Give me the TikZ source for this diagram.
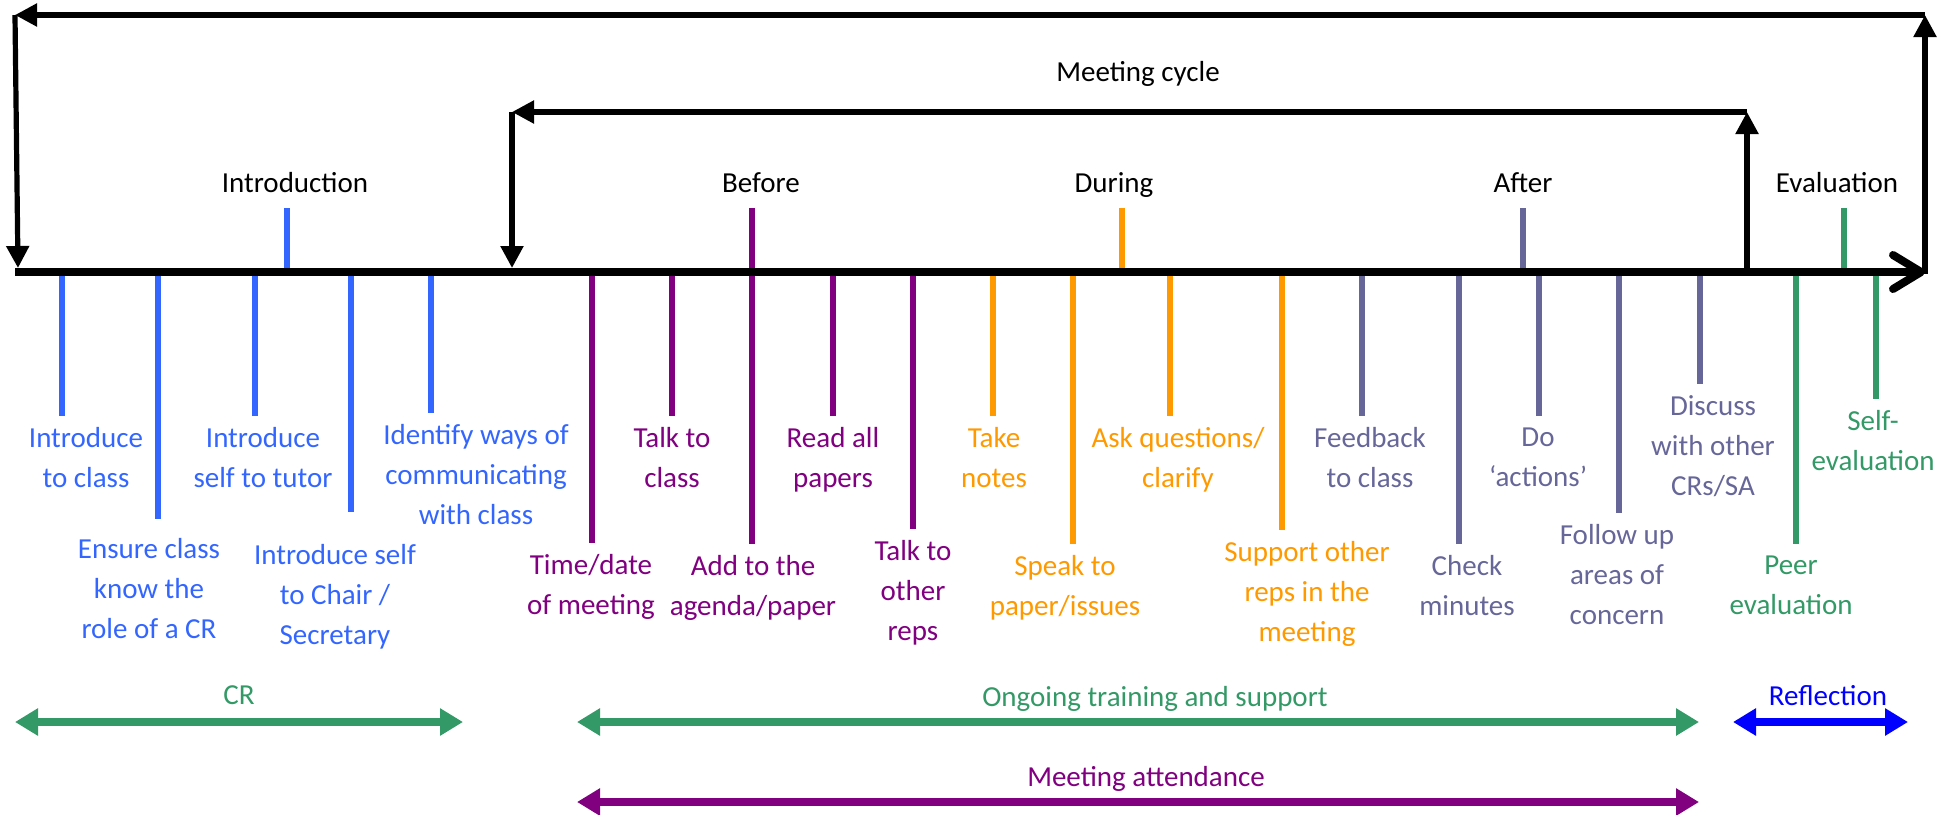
\documentclass[tikz,border=0pt]{standalone}
\usepackage{fontspec}
\setmainfont{Carlito}
\usetikzlibrary{arrows.meta}
\definecolor{introblue}{HTML}{3366FF}
\definecolor{prepurple}{HTML}{800080}
\definecolor{midorange}{HTML}{FF9900}
\definecolor{postslate}{HTML}{666699}
\definecolor{evalgreen}{HTML}{339966}
\definecolor{reflblue}{HTML}{0000FF}
\tikzset{
  lbl/.style={font=\fontsize{14.5}{20}\selectfont, align=center, anchor=north,
    inner xsep=0pt, inner ysep=5.5pt, text=#1, execute at begin node=\strut},
  stage/.style={font=\fontsize{14.5}{20}\selectfont, anchor=base, text depth=0pt,
    inner ysep=8pt, text=#1},
  stage/.default=black,
  tickline/.style={color=#1, line width=3.3pt},
  loopline/.style={line width=2.6pt, -{Triangle[length=11pt,width=11pt]}},
  spanarrow/.style={color=#1, line width=4pt,
    {Triangle[length=11.5pt,width=13pt]}-{Triangle[length=11.5pt,width=13pt]}},
}
\begin{document}
\begin{tikzpicture}[x=0.5pt,y=-0.5pt]
  \useasboundingbox (0,0) rectangle (1957,814);
  \draw
    (1138,81) node[stage] (mc){Meeting cycle}
    (295,192) node[stage] (s1){Introduction}
    (761,192) node[stage] (s2){Before}
    (1114,192) node[stage] (s3){During}
    (1523,192) node[stage] (s4){After}
    (1837,192) node[stage] (s5){Evaluation};
  \draw
    (86,416) node[lbl=introblue] (l1){Introduce\\to class}
    (149,527) node[lbl=introblue] (l2){Ensure class\\know the\\role of a CR}
    (263,416) node[lbl=introblue] (l3){Introduce\\self to tutor}
    (335,533) node[lbl=introblue] (l4){Introduce self\\to Chair /\\Secretary}
    (476,413) node[lbl=introblue] (l5){Identify ways of\\communicating\\with class}
    (591,543) node[lbl=prepurple] (l6){Time/date\\of meeting}
    (672,416) node[lbl=prepurple] (l7){Talk to\\class}
    (753,544) node[lbl=prepurple] (l8){Add to the\\agenda/paper}
    (833,416) node[lbl=prepurple] (l9){Read all\\papers}
    (913,529) node[lbl=prepurple] (l10){Talk to\\other\\reps}
    (994,416) node[lbl=midorange] (l11){Take\\notes}
    (1065,544) node[lbl=midorange] (l12){Speak to\\paper/issues}
    (1178,416) node[lbl=midorange] (l13){Ask questions/\\clarify}
    (1307,530) node[lbl=midorange] (l14){Support other\\reps in the\\meeting}
    (1370,416) node[lbl=postslate] (l15){Feedback\\to class}
    (1467,544) node[lbl=postslate] (l16){Check\\minutes}
    (1538,416) node[lbl=postslate] (l17){Do\\‘actions’}
    (1617,513) node[lbl=postslate] (l18){Follow up\\areas of\\concern}
    (1713,384) node[lbl=postslate] (l19){Discuss\\with other\\CRs/SA}
    (1791,544) node[lbl=evalgreen] (l20){Peer\\evaluation}
    (1873,399) node[lbl=evalgreen] (l21){Self-\\evaluation};
  \foreach \n/\x in {1/62,2/158,3/255,4/351,5/431,6/592,7/672,8/752,9/833,10/913,
      11/993,12/1073,13/1170,14/1282,15/1362,16/1459,17/1539,18/1619,19/1700,
      20/1796,21/1876}
    \coordinate (t\n) at (\x,272);
  \foreach \n/\x in {1/287,3/1122,4/1523,5/1844}
    \coordinate (u\n) at (\x,272);
  \begin{scope}[tickline=introblue]
    \draw (t1) to (t1 |- l1.north);
    \draw[shorten >=4pt] (t2) to (t2 |- l2.north);
    \draw (t3) to (t3 |- l3.north);
    \draw[shorten >=10.5pt] (t4) to (t4 |- l4.north);
    \draw (t5) to (t5 |- l5.north);
    \draw (u1) to (u1 |- s1.south);
  \end{scope}
  \begin{scope}[tickline=prepurple]
    \draw (t6) to (t6 |- l6.north);
    \draw (t7) to (t7 |- l7.north);
    \draw (t8 |- s2.south) to (t8 |- l8.north);
    \draw (t9) to (t9 |- l9.north);
    \draw (t10) to (t10 |- l10.north);
  \end{scope}
  \begin{scope}[tickline=midorange]
    \draw (t11) to (t11 |- l11.north);
    \draw (t12) to (t12 |- l12.north);
    \draw (t13) to (t13 |- l13.north);
    \draw (t14) to (t14 |- l14.north);
    \draw (u3) to (u3 |- s3.south);
  \end{scope}
  \begin{scope}[tickline=postslate]
    \draw (t15) to (t15 |- l15.north);
    \draw (t16) to (t16 |- l16.north);
    \draw (t17) to (t17 |- l17.north);
    \draw (t18) to (t18 |- l18.north);
    \draw (t19) to (t19 |- l19.north);
    \draw (u4) to (u4 |- s4.south);
  \end{scope}
  \begin{scope}[tickline=evalgreen]
    \draw (t20) to (t20 |- l20.north);
    \draw (t21) to (t21 |- l21.north);
    \draw (u5) to (u5 |- s5.south);
  \end{scope}
  \coordinate (tl0) at (15,272);
  \coordinate (tl1) at (1925,272);
  \draw[line width=4pt, -{Straight Barb[length=14pt,width=17pt,round]}] (tl0) to (tl1);
  \coordinate (o1) at (1925,274);
  \coordinate (o2) at (1925,15);
  \coordinate (o3) at (15,15);
  \coordinate (o4) at (18,268);
  \coordinate (i1) at (1747,272);
  \coordinate (i2) at (1747,112);
  \coordinate (i3) at (512,112);
  \coordinate (i4) at (512,268);
  \begin{scope}[loopline]
    \draw (o1) to (o2);
    \draw (o2) to (o3);
    \draw (o3) to (o4);
    \draw (i1) to (i2);
    \draw (i2) to (i3);
    \draw (i3) to (i4);
  \end{scope}
  \draw
    (239,704) node[stage=evalgreen, inner ysep=0pt] (cr){CR}
    (1155,706) node[stage=evalgreen, inner ysep=0pt] (og){Ongoing training and support}
    (1828,705) node[stage=reflblue, inner ysep=0pt] (rf){Reflection}
    (1146,786) node[stage=prepurple, inner ysep=0pt] (ma){Meeting attendance};
  \coordinate (c1) at (15,722);
  \coordinate (c2) at (463,722);
  \coordinate (c3) at (577,722);
  \coordinate (c4) at (1699,722);
  \coordinate (c5) at (1733,722);
  \coordinate (c6) at (1908,722);
  \coordinate (c7) at (577,802);
  \coordinate (c8) at (1699,802);
  \draw[spanarrow=evalgreen] (c1) to (c2);
  \draw[spanarrow=evalgreen] (c3) to (c4);
  \draw[spanarrow=reflblue] (c5) to (c6);
  \draw[spanarrow=prepurple] (c7) to (c8);
\end{tikzpicture}
\end{document}
